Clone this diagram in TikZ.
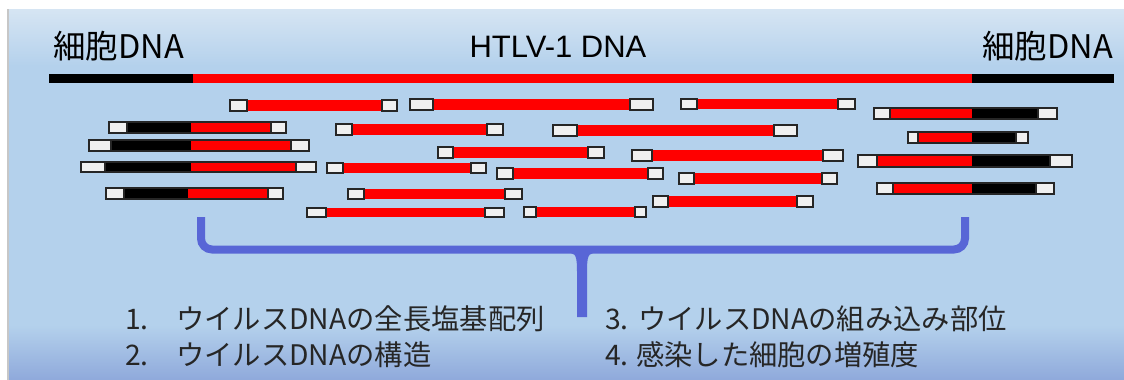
\documentclass[tikz,border=0pt]{standalone}
\usepackage{fontspec}
\setmainfont{Liberation Sans}
\newfontfamily\jpfont{Noto Sans CJK JP}
\definecolor{dnared}{HTML}{FF0000}
\definecolor{bracecol}{HTML}{5866D6}
\definecolor{boxfill}{HTML}{F0F0F0}
\definecolor{boxline}{HTML}{262626}
\definecolor{paneltop}{HTML}{D6E5F3}
\definecolor{panelmid}{HTML}{B4D1EC}
\definecolor{panelbot}{HTML}{8FA9DB}

% one DNA fragment: cap box, red body, cap box
\newcommand\midstrand[6]{% top, bottom, x1, x2, x3, x4
  \fill[dnared] (#4,#1) rectangle (#5,#2);
  \draw[capbox] (#3,#1) rectangle (#4,#2);
  \draw[capbox] (#5,#1) rectangle (#6,#2);}
% fragment with host part on the left
\newcommand\hostleft[7]{% top, bottom, x1..x5
  \fill[black] (#4,#1) rectangle (#5,#2);
  \fill[dnared] (#5,#1) rectangle (#6,#2);
  \draw[strandline] (#3,#1) rectangle (#7,#2);
  \draw[capbox] (#3,#1) rectangle (#4,#2);
  \draw[capbox] (#6,#1) rectangle (#7,#2);}
% fragment with host part on the right
\newcommand\hostright[7]{% top, bottom, x1..x5
  \fill[dnared] (#4,#1) rectangle (#5,#2);
  \fill[black] (#5,#1) rectangle (#6,#2);
  \draw[strandline] (#3,#1) rectangle (#7,#2);
  \draw[capbox] (#3,#1) rectangle (#4,#2);
  \draw[capbox] (#6,#1) rectangle (#7,#2);}

\begin{document}
\begin{tikzpicture}[x=1pt,y=-1pt,
  capbox/.style={draw=boxline,line width=1.4pt,fill=boxfill},
  strandline/.style={draw=boxline,line width=1.2pt},
  brace/.style={draw=bracecol,line width=8pt,line cap=butt},
  toplabel/.style={font=\jpfont\fontsize{32.5}{37}\selectfont,inner sep=0pt},
  item/.style={font=\jpfont\fontsize{28.3}{32}\selectfont,inner sep=0pt,anchor=west,text=black!85}]
\useasboundingbox (0,0) rectangle (1124,380);

% background panel
\fill[white] (0,0) rectangle (1124,380);
\shade[top color=paneltop,bottom color=panelmid] (8,9) rectangle (1124,66);
\fill[panelmid] (8,65) rectangle (1124,326);
\shade[top color=panelmid,bottom color=panelbot] (8,325) rectangle (1124,380);
\draw[black!22,line width=1.2pt] (8,9) -- (8,380);

% titles
\node[toplabel,anchor=west] (cellL) at (53,46) {細胞DNA};
\node[toplabel,anchor=east] (cellR) at (1113,46) {細胞DNA};
\node[font=\fontsize{31}{36}\selectfont,inner sep=0pt] (htlv) at (558,46.5) {HTLV-1 DNA};

% integrated genome
\fill[black] (49,74) rectangle (193,83);
\fill[dnared] (193,74) rectangle (972,83);
\fill[black] (972,74) rectangle (1114,83);

% fragments spanning the left junction
\hostleft{122}{133}{109}{127}{191}{271}{286}
\hostleft{140}{151}{89}{111}{191}{291}{309}
\hostleft{162}{172}{81}{105}{191}{296}{316}
\hostleft{188}{199}{106}{124}{188}{268}{283}

% internal fragments
\midstrand{100}{111}{230}{247}{382}{397}
\midstrand{99}{110}{410}{433}{630}{653}
\midstrand{99}{109}{681}{697}{838}{855}
\midstrand{124}{135}{336}{352}{487}{503}
\midstrand{125}{136}{553}{577}{774}{797}
\midstrand{147}{158}{438}{453}{588}{604}
\midstrand{150}{161}{632}{652}{823}{843}
\midstrand{163}{173}{327}{343}{471}{486}
\midstrand{168}{179}{497}{513}{648}{663}
\midstrand{173}{184}{679}{694}{822}{837}
\midstrand{189}{199}{348}{364}{505}{522}
\midstrand{208}{217}{307}{326}{485}{504}
\midstrand{207}{217}{524}{536}{635}{646}
\midstrand{196}{207}{653}{668}{797}{813}

% fragments spanning the right junction
\hostright{108}{119}{874}{890}{972}{1038}{1057}
\hostright{132}{143}{908}{918}{972}{1016}{1028}
\hostright{155}{167}{858}{877}{972}{1050}{1072}
\hostright{183}{194}{877}{893}{972}{1036}{1054}

% bracket
\coordinate (bl) at (201,217);
\coordinate (br) at (965,217);
\draw[brace,rounded corners=11pt] (bl) -- (201,249.5) -- (965,249.5) -- (br);
\fill[bracecol] (571,253) .. controls (577,253.5) and (577,262) .. (577,274)
  -- (577,317) -- (587,317) -- (587,274)
  .. controls (587,262) and (587,253.5) .. (593,253) -- cycle;

% findings
\node[item] (it1) at (125,318.5) {\makebox[51pt][l]{1.}ウイルスDNAの全長塩基配列};
\node[item] (it2) at (125,354.5) {\makebox[51pt][l]{2.}ウイルスDNAの構造};
\node[item] (it3) at (605,318.5) {\makebox[33pt][l]{3.}ウイルスDNAの組み込み部位};
\node[item] (it4) at (605,354.5) {\makebox[31pt][l]{4.}感染した細胞の増殖度};
\end{tikzpicture}
\end{document}
